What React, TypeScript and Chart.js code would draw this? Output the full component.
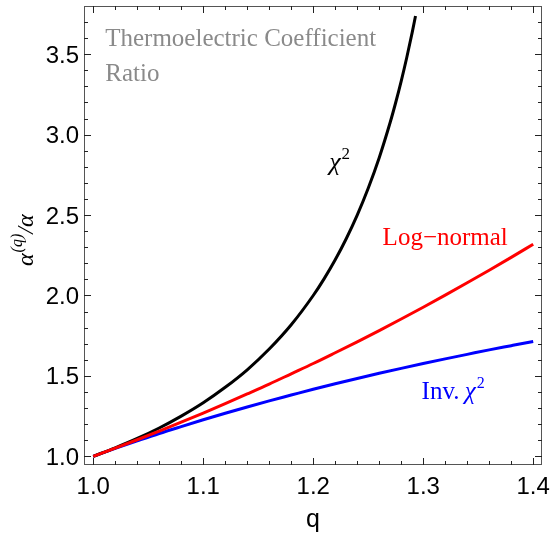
import React, { useEffect, useRef } from 'react';
import { Chart, registerables } from 'chart.js';

Chart.register(...registerables);

// q values for the Log-normal and Inv. chi^2 curves
const qValues = [1.0, 1.02, 1.04, 1.06, 1.08, 1.1, 1.12, 1.14, 1.16, 1.18, 1.2, 1.22, 1.24, 1.26, 1.28, 1.3, 1.32, 1.34, 1.36, 1.38, 1.4];
const logNormalValues = [1.0, 1.051, 1.103, 1.157, 1.212, 1.269, 1.328, 1.388, 1.449, 1.513, 1.577, 1.644, 1.712, 1.782, 1.854, 1.927, 2.002, 2.079, 2.157, 2.237, 2.319];
const invChi2Values = [1.0, 1.049, 1.096, 1.142, 1.185, 1.227, 1.268, 1.307, 1.345, 1.381, 1.417, 1.451, 1.484, 1.516, 1.547, 1.577, 1.606, 1.634, 1.662, 1.688, 1.714];

// q values for the chi^2 curve (it leaves the plot near q = 1.293)
const chi2QValues = [1.0, 1.02, 1.04, 1.06, 1.08, 1.1, 1.12, 1.14, 1.16, 1.18, 1.2, 1.21, 1.22, 1.23, 1.24, 1.25, 1.26, 1.27, 1.275, 1.28, 1.285, 1.29, 1.293];
const chi2Values = [1.0, 1.053, 1.111, 1.176, 1.25, 1.333, 1.429, 1.538, 1.667, 1.818, 2.0, 2.105, 2.222, 2.353, 2.5, 2.667, 2.857, 3.077, 3.2, 3.333, 3.478, 3.636, 3.738];

const xTickValues = [1.0, 1.1, 1.2, 1.3, 1.4];
const xTickLabels = ['1.0', '1.1', '1.2', '1.3', '1.4'];
const yTickValues = [1.0, 1.5, 2.0, 2.5, 3.0, 3.5];
const yTickLabels = ['1.0', '1.5', '2.0', '2.5', '3.0', '3.5'];

const X_MIN = 0.9916;
const X_MAX = 1.408;
const Y_MIN = 0.946;
const Y_MAX = 3.8;

const SANS = '"Liberation Sans", Arial, sans-serif';
const SERIF = '"Liberation Serif", "Times New Roman", serif';

const framePlugin = {
  id: 'mmaFrame',
  afterDraw(chart: any) {
    const ctx = chart.ctx as CanvasRenderingContext2D;
    const { left, right, top, bottom } = chart.chartArea;
    const xs = chart.scales.x;
    const ys = chart.scales.y;
    ctx.save();

    // frame
    ctx.strokeStyle = '#555';
    ctx.lineWidth = 1;
    ctx.strokeRect(left + 0.5, top + 0.5, right - left - 1, bottom - top - 1);

    // ticks
    ctx.strokeStyle = '#222';
    ctx.beginPath();
    for (let i = 0; i <= 20; i++) {
      const v = 1 + i * 0.02;
      const major = i % 5 === 0;
      const len = major ? 7 : 4;
      const px = Math.round(xs.getPixelForValue(v)) + 0.5;
      ctx.moveTo(px, bottom);
      ctx.lineTo(px, bottom - len);
      ctx.moveTo(px, top);
      ctx.lineTo(px, top + len);
    }
    for (let i = 0; i <= 27; i++) {
      const v = 1 + i * 0.1;
      const major = i % 5 === 0;
      const len = major ? 7 : 4;
      const py = Math.round(ys.getPixelForValue(v)) + 0.5;
      ctx.moveTo(left, py);
      ctx.lineTo(left + len, py);
      ctx.moveTo(right, py);
      ctx.lineTo(right - len, py);
    }
    ctx.stroke();

    // tick labels
    ctx.fillStyle = '#000';
    ctx.font = `24px ${SANS}`;
    ctx.textBaseline = 'alphabetic';
    ctx.textAlign = 'center';
    xTickValues.forEach((v, i) => {
      ctx.fillText(xTickLabels[i], xs.getPixelForValue(v), bottom + 28.5);
    });
    ctx.textAlign = 'right';
    yTickValues.forEach((v, i) => {
      ctx.fillText(yTickLabels[i], left - 5, ys.getPixelForValue(v) + 8.5);
    });

    // x axis title
    ctx.textAlign = 'center';
    ctx.font = `25px ${SANS}`;
    ctx.fillText('q', (left + right) / 2, 527);

    // y axis title: alpha^(q)/alpha, rotated
    ctx.save();
    ctx.translate(33, 266);
    ctx.rotate(-Math.PI / 2);
    ctx.textAlign = 'left';
    const main = `italic 24px ${SERIF}`;
    const sup = `italic 16px ${SERIF}`;
    let cx = 0;
    ctx.font = main;
    ctx.fillText('α', cx, 0);
    cx += ctx.measureText('α').width + 1;
    ctx.font = sup;
    ctx.fillText('(q)', cx, -11);
    cx += ctx.measureText('(q)').width;
    ctx.font = main;
    ctx.fillText('/α', cx, 0);
    ctx.restore();

    // annotations
    ctx.textAlign = 'left';
    ctx.fillStyle = '#8a8a8a';
    ctx.font = `25px ${SERIF}`;
    ctx.fillText('Thermoelectric Coefficient', xs.getPixelForValue(1.0109), ys.getPixelForValue(3.55));
    ctx.fillText('Ratio', xs.getPixelForValue(1.0109), ys.getPixelForValue(3.332));

    // chi^2 label
    ctx.fillStyle = '#000';
    let lx = xs.getPixelForValue(1.2145);
    const ly = ys.getPixelForValue(2.779);
    ctx.font = `italic 26px ${SERIF}`;
    ctx.fillText('χ', lx, ly);
    lx += ctx.measureText('χ').width + 1;
    ctx.font = `17px ${SERIF}`;
    ctx.fillText('2', lx, ly - 11);

    // Log-normal label
    ctx.fillStyle = '#ff0000';
    ctx.font = `25px ${SERIF}`;
    ctx.fillText('Log\u2212normal', xs.getPixelForValue(1.2631), ys.getPixelForValue(2.312));

    // Inv. chi^2 label
    ctx.fillStyle = '#0000ff';
    let ix = xs.getPixelForValue(1.2985);
    const iy = ys.getPixelForValue(1.359);
    ctx.font = `25px ${SERIF}`;
    ctx.fillText('Inv. ', ix, iy);
    ix += ctx.measureText('Inv. ').width - 1;
    ctx.font = `italic 25px ${SERIF}`;
    ctx.fillText('χ', ix, iy);
    ix += ctx.measureText('χ').width + 1;
    ctx.font = `16px ${SERIF}`;
    ctx.fillText('2', ix, iy - 11);

    ctx.restore();
  },
};

export default function App() {
  const canvasRef = useRef<HTMLCanvasElement | null>(null);

  useEffect(() => {
    document.body.style.margin = '0';
    const canvas = canvasRef.current;
    if (!canvas) return;

    const toPoints = (xsArr: number[], ysArr: number[]) => xsArr.map((x, i) => ({ x, y: ysArr[i] }));

    const chart = new Chart(canvas, {
      type: 'line',
      data: {
        datasets: [
          {
            label: 'Log-normal',
            data: toPoints(qValues, logNormalValues),
            borderColor: '#ff0000',
            borderWidth: 3,
            pointRadius: 0,
            fill: false,
            cubicInterpolationMode: 'monotone',
          },
          {
            label: 'χ2',
            data: toPoints(chi2QValues, chi2Values),
            borderColor: '#000000',
            borderWidth: 3,
            pointRadius: 0,
            fill: false,
            cubicInterpolationMode: 'monotone',
          },
          {
            label: 'Inv. χ2',
            data: toPoints(qValues, invChi2Values),
            borderColor: '#0000ff',
            borderWidth: 3,
            pointRadius: 0,
            fill: false,
            cubicInterpolationMode: 'monotone',
          },
        ],
      },
      options: {
        responsive: false,
        maintainAspectRatio: false,
        animation: false,
        events: [],
        layout: { padding: { top: 6, right: 8, left: 0, bottom: 0 } },
        plugins: {
          legend: { display: false },
          tooltip: { enabled: false },
          title: { display: false },
        },
        scales: {
          x: {
            type: 'linear',
            min: X_MIN,
            max: X_MAX,
            grid: { display: false },
            border: { display: false },
            ticks: { display: false },
            afterFit: (s: any) => {
              s.height = 70;
            },
          },
          y: {
            type: 'linear',
            min: Y_MIN,
            max: Y_MAX,
            grid: { display: false },
            border: { display: false },
            ticks: { display: false },
            afterFit: (s: any) => {
              s.width = 84;
            },
          },
        },
      },
      plugins: [framePlugin],
    });

    return () => {
      chart.destroy();
    };
  }, []);

  return (
    <div style={{ width: 550, height: 535, background: '#fff' }}>
      <canvas ref={canvasRef} width={550} height={535} style={{ display: 'block' }} />
    </div>
  );
}
